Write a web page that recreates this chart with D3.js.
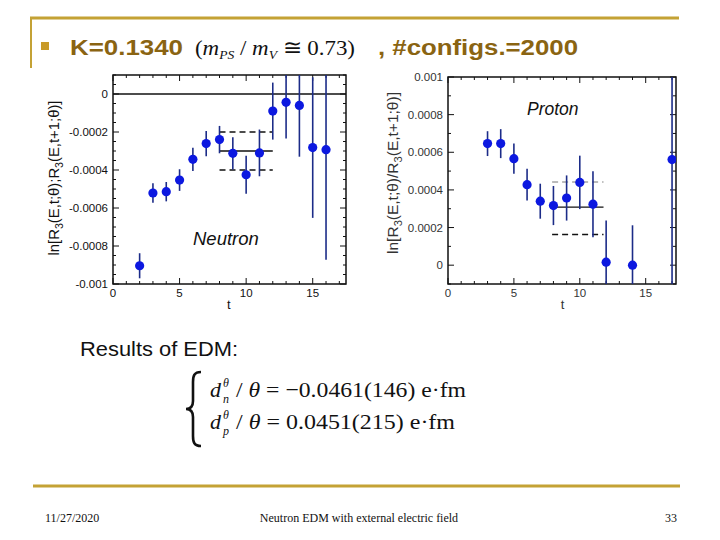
<!DOCTYPE html>
<html><head><meta charset="utf-8">
<script src="https://cdn.jsdelivr.net/npm/d3@7"></script>
<style>body{margin:0;background:#fff}svg{display:block}</style>
</head><body>
<script>
// ---- data ----
const neutronT = [2,3,4,5,6,7,8,9,10,11,12,13,14,15,16];
const neutronY = [-0.000904,-0.000521,-0.000514,-0.000453,-0.000344,-0.000261,-0.00024,-0.000312,-0.000425,-0.00031,-0.00009,-0.000044,-0.00006,-0.000282,-0.000293];
const neutronErr = [0.000066,0.000051,0.000051,0.000057,0.000061,0.000066,0.000072,0.000085,0.0001,0.000123,0.00015,0.00019,0.00027,0.00037,0.00058];
const neutronFit = [-0.0003,-0.0002,-0.0004]; // central, upper, lower
const neutronFitRange = [8,12];
const neutronYTicks = [0,-0.0002,-0.0004,-0.0006,-0.0008,-0.001];
const neutronYTickLabels = ["0","-0.0002","-0.0004","-0.0006","-0.0008","-0.001"];

const protonT = [3,4,5,6,7,8,9,10,11,12,14,17];
const protonY = [0.000646,0.000646,0.000566,0.000428,0.00034,0.000317,0.000357,0.00044,0.000324,0.000016,0.0,0.000561];
const protonErr = [0.000066,0.000077,0.00008,0.000084,0.000093,0.000104,0.00012,0.000142,0.000175,0.000221,0.000212,0.002];
const protonFit = [0.000308,0.000442,0.000163];
const protonFitRange = [7.9,11.8];
const protonYTicks = [0.001,0.0008,0.0006,0.0004,0.0002,0];
const protonYTickLabels = ["0.001","0.0008","0.0006","0.0004","0.0002","0"];

const xTicks = [0,5,10,15];
const xTickLabels = ["0","5","10","15"];

const W=720,H=540;
const gold="#c4a235", titleCol="#8a6412";
const svg=d3.select("body").append("svg").attr("width",W).attr("height",H);

// slide decorations
svg.append("line").attr("x1",30).attr("x2",679).attr("y1",18).attr("y2",18).attr("stroke",gold).attr("stroke-width",3);
svg.append("line").attr("x1",31).attr("x2",31).attr("y1",17).attr("y2",68).attr("stroke",gold).attr("stroke-width",2);
svg.append("line").attr("x1",33).attr("x2",680).attr("y1",486).attr("y2",486).attr("stroke",gold).attr("stroke-width",3);
svg.append("rect").attr("x",41).attr("y",42).attr("width",8).attr("height",8).attr("fill","#c89a28");

// title
svg.append("text").attr("x",70).attr("y",55).attr("font-family","Liberation Sans, Arial").attr("font-weight","bold")
  .attr("font-size",22).attr("fill",titleCol).attr("textLength",113).attr("lengthAdjust","spacingAndGlyphs").text("K=0.1340");
const mt=svg.append("text").attr("x",195).attr("y",55).attr("font-family","Liberation Serif, Times New Roman").attr("font-size",22).attr("fill","#111")
  .attr("textLength",160).attr("lengthAdjust","spacingAndGlyphs");
mt.append("tspan").text("(");
mt.append("tspan").attr("font-style","italic").text("m");
mt.append("tspan").attr("font-style","italic").attr("font-size",13).attr("dy",4).text("PS");
mt.append("tspan").attr("dy",-4).text(" / ");
mt.append("tspan").attr("font-style","italic").text("m");
mt.append("tspan").attr("font-style","italic").attr("font-size",13).attr("dy",4).text("V");
mt.append("tspan").attr("dy",-4).text(" \u2245 0.73)");
svg.append("text").attr("x",378).attr("y",55).attr("font-family","Liberation Sans, Arial").attr("font-weight","bold")
  .attr("font-size",22).attr("fill",titleCol).attr("textLength",200).attr("lengthAdjust","spacingAndGlyphs").text(", #configs.=2000");

function panel(o){
  const g=svg.append("g");
  const x=d3.scaleLinear().domain(o.xDom).range([o.x0,o.x1]);
  const y=d3.scaleLinear().domain(o.yDom).range([o.y1,o.y0]);
  g.append("rect").attr("x",o.x0).attr("y",o.y0).attr("width",o.x1-o.x0).attr("height",o.y1-o.y0)
    .attr("fill","#fff").attr("stroke","#111").attr("stroke-width",1.5);
  const cid="clip"+o.id;
  svg.append("clipPath").attr("id",cid).append("rect").attr("x",o.x0).attr("y",o.y0).attr("width",o.x1-o.x0).attr("height",o.y1-o.y0);
  // ticks
  const tk=g.append("g").attr("stroke","#111").attr("stroke-width",1);
  const xMinor=d3.range(0,Math.floor(o.xDom[1])+1,1);
  xMinor.forEach(v=>{
    const L=(v%5===0)?6:3;
    tk.append("line").attr("x1",x(v)).attr("x2",x(v)).attr("y1",o.y1).attr("y2",o.y1-L);
    tk.append("line").attr("x1",x(v)).attr("x2",x(v)).attr("y1",o.y0).attr("y2",o.y0+L);
  });
  const yMinor=d3.range(o.yDom[0],o.yDom[1]+1e-9,o.yMinor);
  yMinor.forEach(v=>{
    const isMaj=o.yTicks.some(t=>Math.abs(t-v)<1e-9);
    const L=isMaj?6:3;
    tk.append("line").attr("x1",o.x0).attr("x2",o.x0+L).attr("y1",y(v)).attr("y2",y(v));
    tk.append("line").attr("x1",o.x1).attr("x2",o.x1-L).attr("y1",y(v)).attr("y2",y(v));
  });
  // tick labels
  const lf="Liberation Sans, Arial";
  o.yTicks.forEach((v,i)=>{
    g.append("text").attr("x",o.x0-5).attr("y",y(v)+4).attr("text-anchor","end").attr("font-family",lf)
      .attr("font-size",11.5).attr("fill",o.labCol).text(o.yLabels[i]);
  });
  xTicks.forEach((v,i)=>{
    g.append("text").attr("x",x(v)).attr("y",o.y1+13).attr("text-anchor","middle").attr("font-family",lf)
      .attr("font-size",11.5).attr("fill",o.labCol).text(xTickLabels[i]);
  });
  g.append("text").attr("x",x(8.7)).attr("y",o.y1+25).attr("text-anchor","middle").attr("font-family",lf)
    .attr("font-size",13).attr("fill",o.labCol).text("t");
  // y label
  const yl=g.append("text").attr("transform",`translate(${o.ylx},${o.ylc}) rotate(-90)`).attr("text-anchor","middle")
    .attr("font-family",lf).attr("font-size",14).attr("fill",o.labCol).attr("textLength",o.ylLen).attr("lengthAdjust","spacingAndGlyphs");
  yl.append("tspan").text("ln[R");
  yl.append("tspan").attr("font-size",10).attr("dy",4).text("3");
  yl.append("tspan").attr("dy",-4).text(o.mid);
  yl.append("tspan").attr("font-size",10).attr("dy",4).text("3");
  yl.append("tspan").attr("dy",-4).text("(E,t+1;\u03b8)]");
  // zero line
  if(o.zeroLine) g.append("line").attr("x1",o.x0).attr("x2",o.x1).attr("y1",y(0)).attr("y2",y(0)).attr("stroke","#111").attr("stroke-width",1.3);
  const cg=g.append("g").attr("clip-path",`url(#${cid})`);
  // fit lines
  const [fa,fb]=o.fitRange;
  cg.append("line").attr("x1",x(fa)).attr("x2",x(fb)).attr("y1",y(o.fit[0])).attr("y2",y(o.fit[0])).attr("stroke","#111").attr("stroke-width",1.3);
  cg.append("line").attr("x1",x(fa)).attr("x2",x(fb)).attr("y1",y(o.fit[1])).attr("y2",y(o.fit[1])).attr("stroke",o.upCol).attr("stroke-width",o.upW).attr("stroke-dasharray","6,4");
  cg.append("line").attr("x1",x(fa)).attr("x2",x(fb)).attr("y1",y(o.fit[2])).attr("y2",y(o.fit[2])).attr("stroke","#111").attr("stroke-width",1.4).attr("stroke-dasharray","6,4");
  // error bars & points
  o.T.forEach((t,i)=>{
    cg.append("line").attr("x1",x(t)).attr("x2",x(t)).attr("y1",y(o.Y[i]-o.E[i])).attr("y2",y(o.Y[i]+o.E[i]))
      .attr("stroke","#1c2c88").attr("stroke-width",1.6);
  });
  o.T.forEach((t,i)=>{
    cg.append("circle").attr("cx",x(t)).attr("cy",y(o.Y[i])).attr("r",4.6).attr("fill","#0c18e0");
  });
  g.append("text").attr("x",o.nameX).attr("y",o.nameY).attr("font-family",lf).attr("font-style","italic")
    .attr("font-size",o.nameSize).attr("fill","#111").text(o.name);
}

panel({id:"n",x0:113,x1:346,y0:75,y1:284,xDom:[0,17.5],yDom:[-0.001,0.0001],yMinor:0.00005,
  yTicks:neutronYTicks,yLabels:neutronYTickLabels,T:neutronT,Y:neutronY,E:neutronErr,fit:neutronFit,fitRange:neutronFitRange,
  zeroLine:true,ylx:59,ylc:178,ylLen:155,mid:"(E,t;\u03b8);R",labCol:"#111",upCol:"#111",upW:1.4,name:"Neutron",nameX:193,nameY:245,nameSize:18.5});
panel({id:"p",x0:448,x1:676,y0:77,y1:284,xDom:[0,17.3],yDom:[-0.0001,0.001],yMinor:0.0001,
  yTicks:protonYTicks,yLabels:protonYTickLabels,T:protonT,Y:protonY,E:protonErr,fit:protonFit,fitRange:protonFitRange,
  zeroLine:false,ylx:398,ylc:173,ylLen:162,mid:"(E,t;\u03b8)/R",labCol:"#333",upCol:"#777",upW:1,name:"Proton",nameX:527,nameY:115,nameSize:17.5});

// results
svg.append("text").attr("x",80).attr("y",356).attr("font-family","Liberation Sans, Arial").attr("font-size",20).attr("fill","#111")
  .attr("textLength",158).attr("lengthAdjust","spacingAndGlyphs").text("Results of EDM:");
svg.append("path").attr("d","M201,372 C194,372 193,376 193,382 L193,401 C193,406 191,409 186,409 C191,409 193,412 193,417 L193,436 C193,442 194,446 201,446")
  .attr("fill","none").attr("stroke","#111").attr("stroke-width",2.6);
function formula(yb,sub,rest,len){
  const f="Liberation Serif, Times New Roman";
  svg.append("text").attr("x",210).attr("y",yb).attr("font-family",f).attr("font-style","italic").attr("font-size",22).attr("fill","#111").text("d");
  svg.append("text").attr("x",223).attr("y",yb-10).attr("font-family",f).attr("font-style","italic").attr("font-size",12).attr("fill","#111").text("\u03b8");
  svg.append("text").attr("x",223).attr("y",yb+6).attr("font-family",f).attr("font-style","italic").attr("font-size",12).attr("fill","#111").text(sub);
  const t=svg.append("text").attr("x",236).attr("y",yb).attr("font-family",f).attr("font-size",22).attr("fill","#111")
    .attr("textLength",len).attr("lengthAdjust","spacingAndGlyphs");
  t.append("tspan").text("/ ");
  t.append("tspan").attr("font-style","italic").text("\u03b8");
  t.append("tspan").text(rest);
}
formula(397,"n"," = \u22120.0461(146) e\u00b7fm",230);
formula(429,"p"," = 0.0451(215) e\u00b7fm",219);

// footer
const ff="Liberation Serif, Times New Roman";
svg.append("text").attr("x",45).attr("y",522).attr("font-family",ff).attr("font-size",12).attr("fill","#111").text("11/27/2020");
svg.append("text").attr("x",359).attr("y",522).attr("text-anchor","middle").attr("font-family",ff).attr("font-size",12).attr("fill","#111").text("Neutron EDM with external electric field");
svg.append("text").attr("x",677).attr("y",522).attr("text-anchor","end").attr("font-family",ff).attr("font-size",12).attr("fill","#111").text("33");
</script>
</body></html>
